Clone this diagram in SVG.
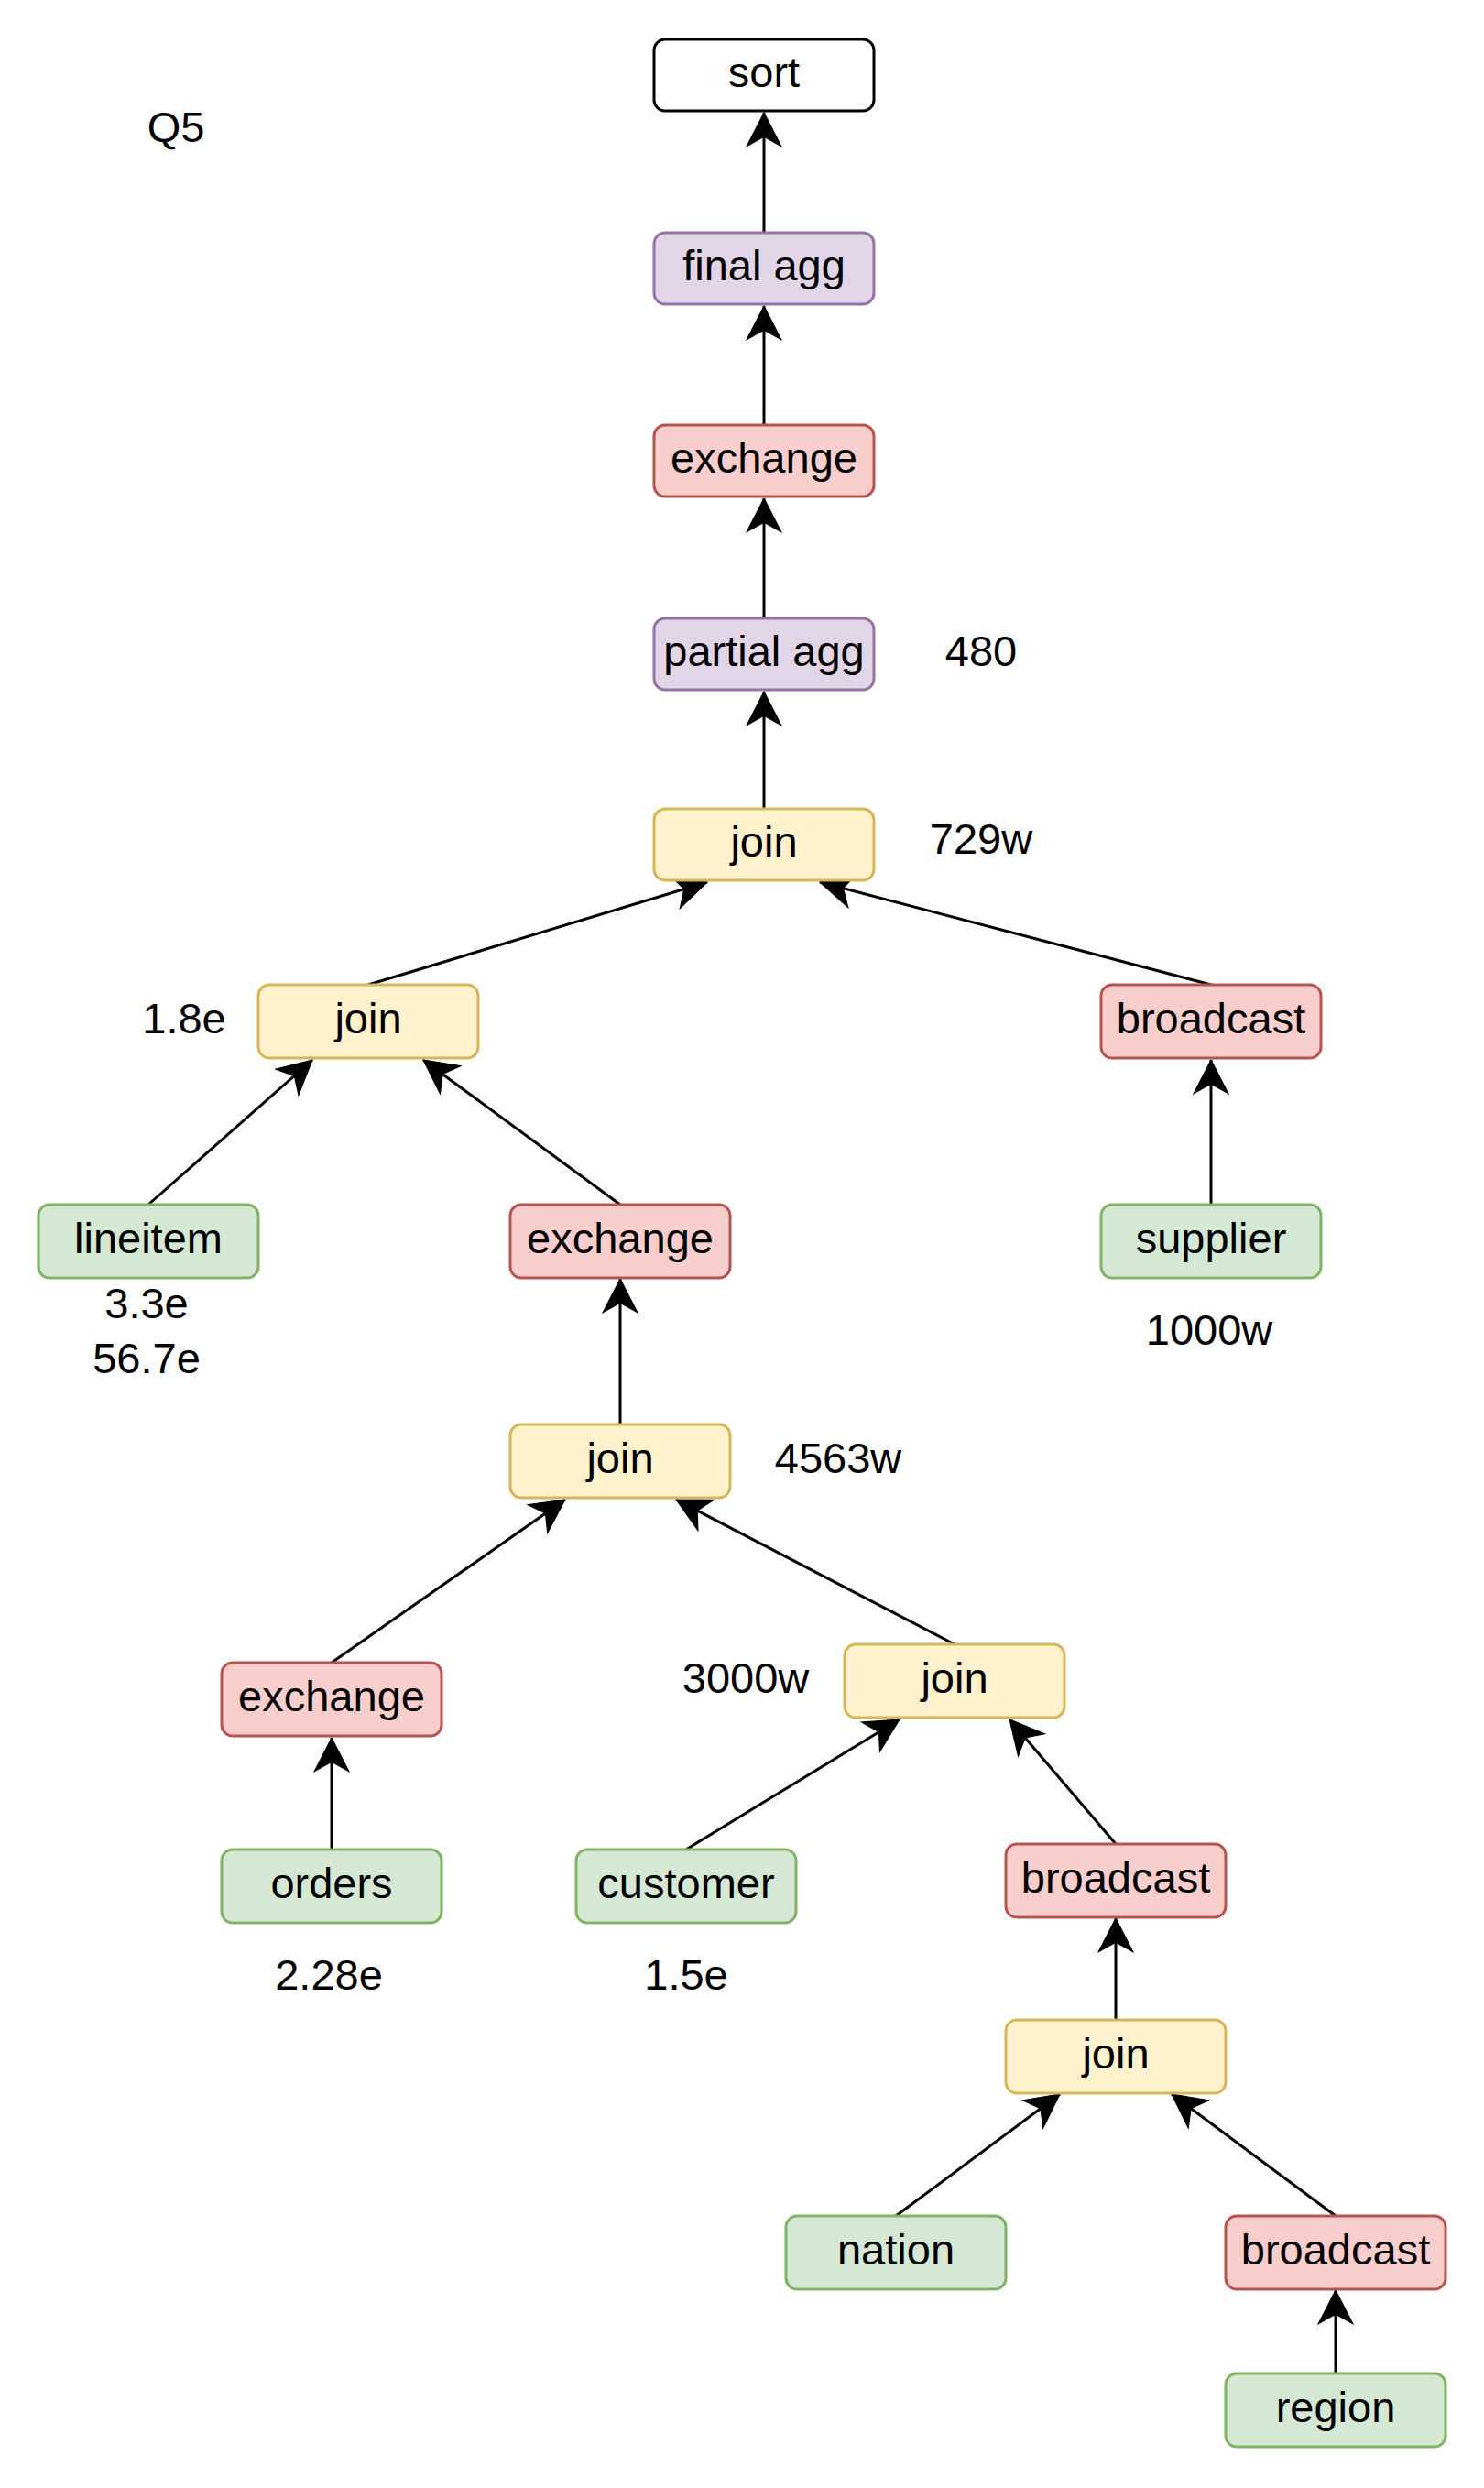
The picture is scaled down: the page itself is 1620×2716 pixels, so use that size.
<svg xmlns="http://www.w3.org/2000/svg" width="1620" height="2716" viewBox="0 0 1620 2716">
<style>
.n rect{stroke-width:3}
.n text,.lbl{font-family:"Liberation Sans",Arial,Helvetica,sans-serif;font-size:47px;fill:#000;text-anchor:middle}
.w rect{fill:#ffffff;stroke:#000000}
.y rect{fill:#fff2cc;stroke:#d6b656}
.r rect{fill:#f8cecc;stroke:#b85450}
.g rect{fill:#d5e8d4;stroke:#82b366}
.p rect{fill:#e1d5e7;stroke:#9673a6}
#edges path{fill:none;stroke:#000;stroke-width:3;marker-end:url(#ah)}
</style>
<defs>
<marker id="ah" markerUnits="userSpaceOnUse" markerWidth="40" markerHeight="40" viewBox="-36 -19 38 38" refX="0" refY="0" orient="auto">
<path d="M0,0 L-35,-18 L-25,0 L-35,18 Z" fill="#000" stroke="#000" stroke-width="1"/>
</marker>
</defs>
<rect width="1620" height="2716" fill="#ffffff"/>
<g id="edges">
<path d="M834,253 L834,123"/>
<path d="M834,463 L834,334"/>
<path d="M834,674 L834,544"/>
<path d="M834,882 L834,755"/>
<path d="M402,1075 L772,963"/>
<path d="M1322,1075 L895,963"/>
<path d="M162,1315 L341,1157"/>
<path d="M677,1315 L462,1157"/>
<path d="M1322,1315 L1322,1157"/>
<path d="M677,1555 L677,1396"/>
<path d="M362,1815 L617,1637"/>
<path d="M1042,1795 L738,1637"/>
<path d="M362,2019 L362,1897"/>
<path d="M749,2019 L982,1877"/>
<path d="M1218,2013 L1102,1877"/>
<path d="M1218,2205 L1218,2094"/>
<path d="M978,2419 L1157,2286"/>
<path d="M1458,2419 L1279,2286"/>
<path d="M1458,2591 L1458,2500"/>
</g>
<g id="sort" class="n w"><rect x="714" y="43" width="240" height="78" rx="12"/><text x="834" y="95">sort</text></g>
<g id="final-agg" class="n p"><rect x="714" y="254" width="240" height="78" rx="12"/><text x="834" y="306">final agg</text></g>
<g id="exchange-top" class="n r"><rect x="714" y="464" width="240" height="78" rx="12"/><text x="834" y="516">exchange</text></g>
<g id="partial-agg" class="n p"><rect x="714" y="675" width="240" height="78" rx="12"/><text x="834" y="727">partial agg</text></g>
<g id="join-top" class="n y"><rect x="714" y="883" width="240" height="78" rx="12"/><text x="834" y="935">join</text></g>
<g id="join-left" class="n y"><rect x="282" y="1075" width="240" height="80" rx="12"/><text x="402" y="1128">join</text></g>
<g id="broadcast-right" class="n r"><rect x="1202" y="1075" width="240" height="80" rx="12"/><text x="1322" y="1128">broadcast</text></g>
<g id="lineitem" class="n g"><rect x="42" y="1315" width="240" height="80" rx="12"/><text x="162" y="1368">lineitem</text></g>
<g id="exchange-mid" class="n r"><rect x="557" y="1315" width="240" height="80" rx="12"/><text x="677" y="1368">exchange</text></g>
<g id="supplier" class="n g"><rect x="1202" y="1315" width="240" height="80" rx="12"/><text x="1322" y="1368">supplier</text></g>
<g id="join-mid" class="n y"><rect x="557" y="1555" width="240" height="80" rx="12"/><text x="677" y="1608">join</text></g>
<g id="exchange-bl" class="n r"><rect x="242" y="1815" width="240" height="80" rx="12"/><text x="362" y="1868">exchange</text></g>
<g id="join-right" class="n y"><rect x="922" y="1795" width="240" height="80" rx="12"/><text x="1042" y="1848">join</text></g>
<g id="orders" class="n g"><rect x="242" y="2019" width="240" height="80" rx="12"/><text x="362" y="2072">orders</text></g>
<g id="customer" class="n g"><rect x="629" y="2019" width="240" height="80" rx="12"/><text x="749" y="2072">customer</text></g>
<g id="broadcast-mid" class="n r"><rect x="1098" y="2013" width="240" height="80" rx="12"/><text x="1218" y="2066">broadcast</text></g>
<g id="join-lower" class="n y"><rect x="1098" y="2205" width="240" height="80" rx="12"/><text x="1218" y="2258">join</text></g>
<g id="nation" class="n g"><rect x="858" y="2419" width="240" height="80" rx="12"/><text x="978" y="2472">nation</text></g>
<g id="broadcast-lower" class="n r"><rect x="1338" y="2419" width="240" height="80" rx="12"/><text x="1458" y="2472">broadcast</text></g>
<g id="region" class="n g"><rect x="1338" y="2591" width="240" height="80" rx="12"/><text x="1458" y="2644">region</text></g>
<g id="labels">
<text class="lbl" x="192" y="155">Q5</text>
<text class="lbl" x="1071" y="727">480</text>
<text class="lbl" x="1071" y="932">729w</text>
<text class="lbl" x="201" y="1128">1.8e</text>
<text class="lbl" x="160" y="1439">3.3e</text>
<text class="lbl" x="160" y="1499">56.7e</text>
<text class="lbl" x="1320" y="1468">1000w</text>
<text class="lbl" x="915" y="1608">4563w</text>
<text class="lbl" x="814" y="1848">3000w</text>
<text class="lbl" x="359" y="2172">2.28e</text>
<text class="lbl" x="749" y="2172">1.5e</text>
</g>
</svg>
